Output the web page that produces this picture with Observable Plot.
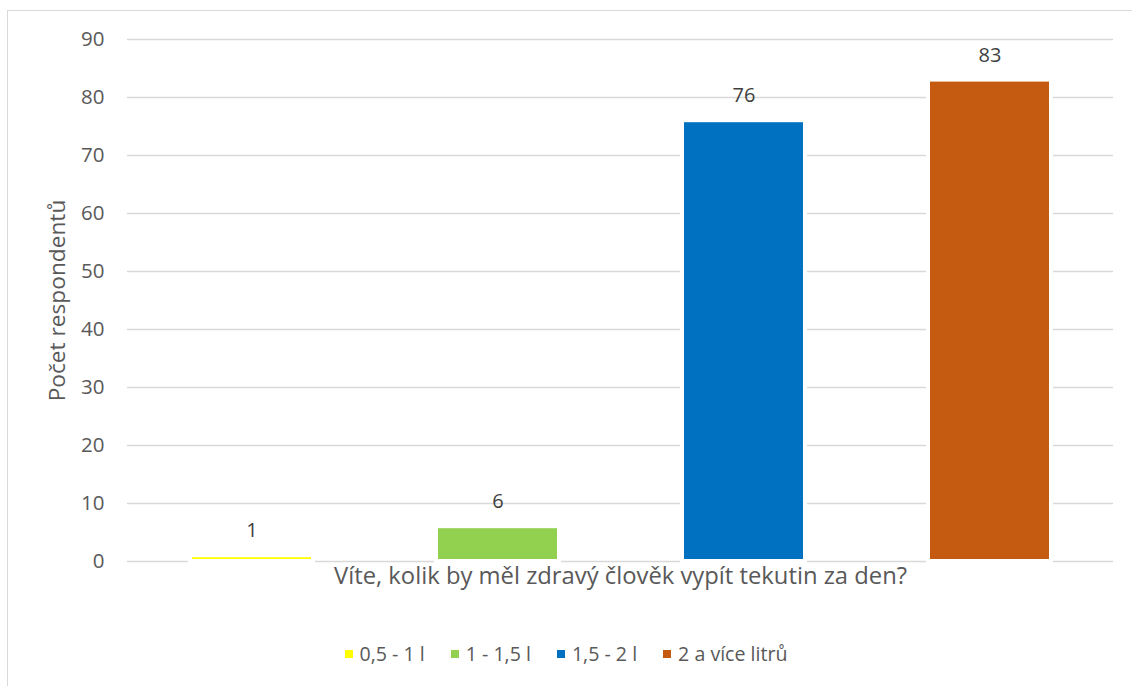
<!DOCTYPE html>
<html>
<head>
<meta charset="utf-8">
<script src="https://cdn.jsdelivr.net/npm/d3@7"></script>
<script src="https://cdn.jsdelivr.net/npm/@observablehq/plot@0.6"></script>
<style>
  html, body { margin: 0; padding: 0; background: #fff; }
  #wrap { position: relative; width: 1132px; height: 686px; overflow: hidden; font-family: "Open Sans", sans-serif; }
  #frame { position: absolute; left: 7px; top: 10px; width: 1140px; height: 700px; border: 1px solid #d9d9d9; box-sizing: border-box; }
  #chart { position: absolute; left: 0; top: 0; }
  #legend { position: absolute; left: 0; top: 640px; width: 1132px; display: flex; justify-content: center; gap: 26px; font-size: 19.6px; line-height: 28px; color: #595959; }
  #legend .item { display: flex; align-items: center; gap: 7px; }
  #legend .sw { width: 8px; height: 8px; display: inline-block; }
</style>
</head>
<body>
<div id="wrap">
  <div id="frame"></div>
  <div id="chart"></div>
  <div id="legend"></div>
</div>
<script>
// Answers to the survey question and respondent counts
const categories = ["0,5 - 1 l", "1 - 1,5 l", "1,5 - 2 l", "2 a více litrů"];
const counts = [1, 6, 76, 83];
const colors = ["#FFFF00", "#92D050", "#0070C0", "#C55A11"];
const yTicks = [0, 10, 20, 30, 40, 50, 60, 70, 80, 90];
const xTitle = "Víte, kolik by měl zdravý člověk vypít tekutin za den?";
const yTitle = "Počet respondentů";

const data = categories.map((c, i) => ({category: c, count: counts[i]}));

const chart = Plot.plot({
  width: 1132,
  height: 610,
  marginLeft: 127,
  marginRight: 19,
  marginTop: 39,
  marginBottom: 49,
  style: {fontFamily: "Open Sans, sans-serif", fontSize: "20px", color: "#595959", background: "transparent"},
  x: {domain: categories, paddingInner: 0.501, paddingOuter: 0.2505, axis: null},
  y: {domain: [0, 90], axis: null},
  color: {domain: categories, range: colors},
  marks: [
    Plot.ruleY(yTicks, {stroke: "#d9d9d9", strokeWidth: 1.3}),
    Plot.axisY(yTicks, {tickSize: 0, tickPadding: 23, label: null, fill: "#595959", fontSize: 20.5}),
    // white outline separates each bar from the gridlines
    Plot.barY(data, {x: "category", y: "count", fill: "category", stroke: "white", strokeWidth: 4}),
    Plot.text(data, {x: "category", y: "count", text: d => String(d.count), dy: -25, fill: "#404040", fontSize: 20}),
    Plot.text([xTitle], {frameAnchor: "bottom", dy: 22, fill: "#595959", fontSize: 23.8}),
    Plot.text([yTitle], {frameAnchor: "left", textAnchor: "middle", dx: -70, rotate: -90, fill: "#595959", fontSize: 22.7})
  ]
});
document.getElementById("chart").appendChild(chart);

const legend = document.getElementById("legend");
categories.forEach((c, i) => {
  const item = document.createElement("span");
  item.className = "item";
  const sw = document.createElement("span");
  sw.className = "sw";
  sw.style.background = colors[i];
  const label = document.createElement("span");
  label.textContent = c;
  item.append(sw, label);
  legend.appendChild(item);
});
</script>
</body>
</html>
